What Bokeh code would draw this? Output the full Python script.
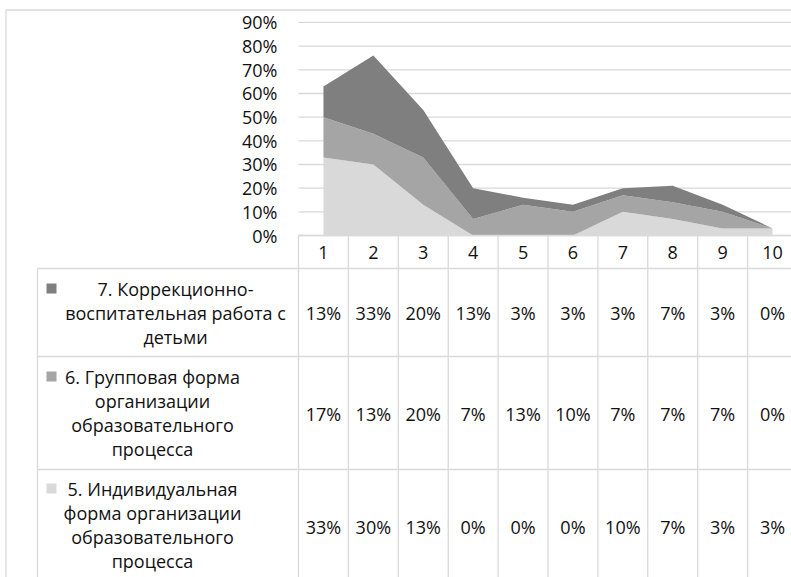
from bokeh.plotting import figure
from bokeh.models import ColumnDataSource, Range1d
from bokeh.embed import file_html
from bokeh.resources import INLINE
from bokeh.core.properties import value

# ---------------- data ----------------
categories = ["1", "2", "3", "4", "5", "6", "7", "8", "9", "10"]
s7 = [13, 33, 20, 13, 3, 3, 3, 7, 3, 0]     # 7. Коррекционно-воспитательная работа с детьми
s6 = [17, 13, 20, 7, 13, 10, 7, 7, 7, 0]    # 6. Групповая форма организации образовательного процесса
s5 = [33, 30, 13, 0, 0, 0, 10, 7, 3, 3]     # 5. Индивидуальная форма организации образовательного процесса
y_ticks = [0, 10, 20, 30, 40, 50, 60, 70, 80, 90]
y_tick_labels = ["0%", "10%", "20%", "30%", "40%", "50%", "60%", "70%", "80%", "90%"]
legend_lines = [
    ["7. Коррекционно-", "воспитательная работа с", "детьми"],
    ["6. Групповая форма", "организации", "образовательного", "процесса"],
    ["5. Индивидуальная", "форма организации", "образовательного", "процесса"],
]
rows_values = [s7, s6, s5]
row_colors = ["#7f7f7f", "#a5a5a5", "#d9d9d9"]

# ---------------- layout (page pixels) ----------------
FIG_LEFT, FIG_TOP = 0, 0
W, H = 791, 577
PX0, CW = 298.0, 49.9        # page x of the first category boundary, px per category
PY0, PPY = 235.0, 2.367      # page y of 0 %, px per percent


def ux(X):
    return (X - PX0) / CW


def vy(Y):
    return (PY0 - Y) / PPY


RIGHT = FIG_LEFT + W
BOTTOM = FIG_TOP + H

p = figure(width=W, height=H, output_backend="svg", toolbar_location=None,
           x_range=Range1d(ux(FIG_LEFT), ux(RIGHT)),
           y_range=Range1d(vy(BOTTOM), vy(FIG_TOP)),
           x_axis_location=None, y_axis_location=None, min_border=0)
p.grid.visible = False
p.outline_line_color = None
p.background_fill_color = "white"
p.border_fill_color = "white"

GRID = "#d9d9d9"
TXT = "#111111"
FONT = value("Open Sans")
FS = "18px"

# gridlines
n = len(categories)
p.segment(x0=[0] * len(y_ticks), x1=[ux(RIGHT)] * len(y_ticks), y0=y_ticks, y1=y_ticks,
          line_color=GRID, line_width=1.3)

# stacked areas
xs = [i + 0.5 for i in range(n)]
src = ColumnDataSource(dict(x=xs, s5=s5, s6=s6, s7=s7))
p.varea_stack(stackers=["s5", "s6", "s7"], x="x", color=["#d9d9d9", "#a5a5a5", "#7f7f7f"], source=src)

# y tick labels
p.text(x=[ux(277)] * len(y_ticks), y=y_ticks, text=y_tick_labels, text_align="right",
       text_baseline="middle", text_font=FONT, text_font_size=FS, text_color=TXT)

# data table lines
row_tops = [268, 356, 469]
header_top = 235
bounds = list(range(n + 1))
p.segment(x0=bounds, x1=bounds, y0=[vy(header_top)] * len(bounds), y1=[vy(BOTTOM)] * len(bounds),
          line_color=GRID, line_width=1.3)
p.segment(x0=[0], x1=[ux(RIGHT)], y0=[0], y1=[0], line_color=GRID, line_width=1.3)
p.segment(x0=[ux(37)] * 3, x1=[ux(RIGHT)] * 3, y0=[vy(t) for t in row_tops],
          y1=[vy(t) for t in row_tops], line_color=GRID, line_width=1.3)
p.segment(x0=[ux(37)], x1=[ux(37)], y0=[vy(268)], y1=[vy(BOTTOM)], line_color=GRID, line_width=1.3)
# outer chart border
p.segment(x0=[ux(5.5), ux(5.5)], x1=[ux(5.5), ux(RIGHT)], y0=[vy(9.5), vy(9.5)],
          y1=[vy(BOTTOM), vy(9.5)], line_color=GRID, line_width=1.3)

# header category labels
p.text(x=xs, y=[vy(252)] * n, text=categories, text_align="center", text_baseline="middle",
       text_font=FONT, text_font_size=FS, text_color=TXT)

# table values
value_y = [312, 413, 526]
for vals, yy in zip(rows_values, value_y):
    p.text(x=xs, y=[vy(yy)] * n, text=[f"{v}%" for v in vals], text_align="center",
           text_baseline="middle", text_font=FONT, text_font_size=FS, text_color=TXT)

# legend cells
line_ys = [[288, 312, 336], [376, 400, 424, 448], [488, 512, 536, 560]]
centers = [175, 152, 152]
for lines, ys, cx, col in zip(legend_lines, line_ys, centers, row_colors):
    p.text(x=[ux(cx)] * len(lines), y=[vy(y) for y in ys], text=lines, text_align="center",
           text_baseline="middle", text_font=FONT, text_font_size=FS, text_color=TXT)
    p.rect(x=[ux(51)], y=[vy(ys[0])], width=10 / CW, height=10 / PPY, fill_color=col, line_color=None)

open("out.html", "w").write(file_html(p, INLINE))
